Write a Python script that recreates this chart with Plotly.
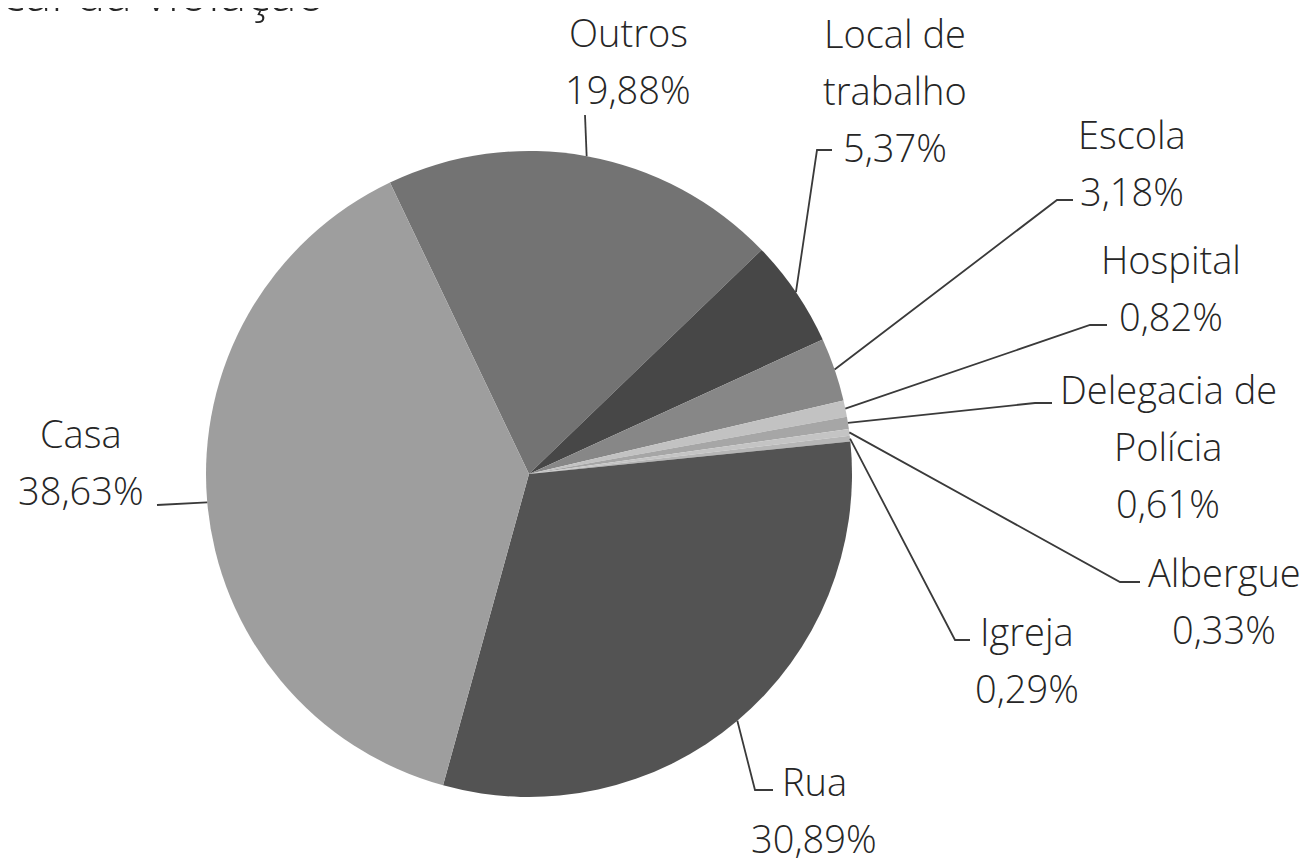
import numpy as np
import plotly.graph_objects as go

# data
categories = ["Outros", "Local de trabalho", "Escola", "Hospital", "Delegacia de Polícia",
              "Albergue", "Igreja", "Rua", "Casa"]
values = [19.88, 5.37, 3.18, 0.82, 0.61, 0.33, 0.29, 30.89, 38.63]
label_lines = [["Outros"], ["Local de", "trabalho"], ["Escola"], ["Hospital"],
               ["Delegacia de", "Polícia"], ["Albergue"], ["Igreja"], ["Rua"], ["Casa"]]
colors = ["#737373", "#474747", "#878787", "#c2c2c2", "#a6a6a6",
          "#c4c4c4", "#b6b6b6", "#535353", "#9e9e9e"]

# layout (pixels of the reference picture); the page body adds an 8px margin
OFF = 8
W, H = 1312 - OFF, 860 - OFF
CX, CY, R = 529, 474, 323
ROT = -25.5
FONT = "Open Sans"
FS = 38
LINE_H = 57

# label placement: x centre, y of first line, leader path after the slice edge
label_pos = [
    (628, 32, [(585, 115)]),
    (895, 33, [(817, 150), (832, 150)]),
    (1132, 134, [(1057, 200), (1073, 200)]),
    (1171, 259, [(1090, 325), (1107, 325)]),
    (1168, 389, [(1035, 403), (1052, 403)]),
    (1224, 572, [(1120, 582), (1140, 582)]),
    (1027, 631, [(955, 640), (970, 640)]),
    (814, 781, [(755, 790), (773, 790)]),
    (81, 433, [(157, 505)]),
]


def px(x):
    return (x - OFF) / W


def py(y):
    return 1 - (y - OFF) / H


fig = go.Figure(go.Pie(
    labels=categories,
    values=values,
    sort=False,
    direction="clockwise",
    rotation=ROT,
    marker=dict(colors=colors, line=dict(width=0)),
    textinfo="none",
    hoverinfo="label+percent",
    showlegend=False,
    domain=dict(x=[px(CX - R), px(CX + R)], y=[py(CY + R), py(CY - R)]),
))

# leader lines start at the middle of each slice on the rim
total = sum(values)
cum = np.cumsum([0] + values)
shapes = []
annotations = []
for i, v in enumerate(values):
    mid = np.radians(ROT + 360 * (cum[i] + v / 2) / total)
    x0 = CX + R * np.sin(mid)
    y0 = CY - R * np.cos(mid)
    pts = [(x0, y0)] + label_pos[i][2]
    path = "M " + " L ".join(f"{px(a)},{py(b)}" for a, b in pts)
    shapes.append(dict(type="path", path=path, xref="paper", yref="paper",
                       line=dict(color="#3a3a3a", width=1.8)))

    lx, ly, _ = label_pos[i]
    pct = f"{v:.2f}".replace(".", ",") + "%"
    for k, t in enumerate(label_lines[i] + [pct]):
        annotations.append(dict(text=t, x=px(lx), y=py(ly + k * LINE_H),
                                xref="paper", yref="paper", showarrow=False,
                                xanchor="center", yanchor="middle",
                                font=dict(family=FONT, size=FS, color="#262626", weight=300)))

# title, cropped at the top of the picture
annotations.append(dict(text="Local da violação", x=px(328), y=py(-8),
                        xref="paper", yref="paper", showarrow=False,
                        xanchor="right", yanchor="middle",
                        font=dict(family=FONT, size=50, color="#262626", weight=300)))

fig.update_layout(
    width=W, height=H,
    margin=dict(l=0, r=0, t=0, b=0),
    paper_bgcolor="white",
    plot_bgcolor="white",
    shapes=shapes,
    annotations=annotations,
)

fig.write_html("out.html")
